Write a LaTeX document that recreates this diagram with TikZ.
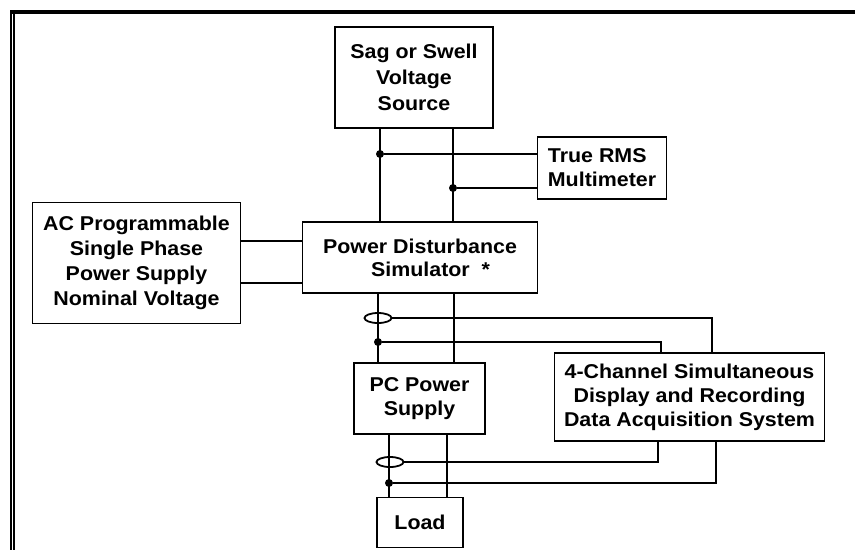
\documentclass[tikz,border=0pt]{standalone}
\usepackage{fontspec}
\setmainfont{Liberation Sans}[FakeStretch=1.07]
\usetikzlibrary{shapes.geometric}

\begin{document}
\begin{tikzpicture}[x=1pt,y=-1pt,
  box/.style={draw,line width=1.8pt,inner sep=0pt,align=center,
    font=\bfseries\fontsize{20}{24}\selectfont},
  wire/.style={line width=1.8pt},
  dot/.style={circle,fill,inner sep=0pt,minimum size=8pt},
  tap/.style={ellipse,draw,line width=1.8pt,inner sep=0pt,minimum width=27pt,minimum height=10pt}]
  \useasboundingbox (0,0) rectangle (855,550);
  % frame
  \draw[line width=4pt] (10,12) -- (855,12);
  \draw[line width=2pt] (11,10) -- (11,550);
  \draw[line width=2pt] (14,14) -- (14,550);

  % blocks
  \node[box,minimum width=158pt,minimum height=101pt,font=\bfseries\fontsize{20}{26}\selectfont]
    (sag) at (414,77.5) {Sag or Swell\\Voltage\\Source};
  \node[box,minimum width=129pt,minimum height=62pt,align=left] (rms) at (602,168) {True RMS\\Multimeter};
  \node[box,minimum width=208pt,minimum height=121pt,font=\bfseries\fontsize{20}{25}\selectfont]
    (ac) at (136.5,263) {AC Programmable\\Single Phase\\Power Supply\\Nominal Voltage};
  \node[box,minimum width=235pt,minimum height=71pt,align=left,font=\bfseries\fontsize{20}{23}\selectfont]
    (pds) at (420,257.5) {Power Disturbance\\\hspace*{48pt}Simulator\ \ *};
  \node[box,minimum width=131pt,minimum height=71pt] (pc) at (419.5,398.5) {PC Power\\Supply};
  \node[box,minimum width=270pt,minimum height=88pt] (daq) at (689.5,397)
    {4-Channel Simultaneous\\Display and Recording\\Data Acquisition System};
  \node[box,minimum width=86pt,minimum height=50pt] (load) at (420,522.5) {Load};

  % junctions and current probes
  \node[dot] (j1) at (380,154) {};
  \node[dot] (j2) at (453,188) {};
  \node[tap] (t1) at (378,318) {};
  \node[dot] (j3) at (378,342) {};
  \node[tap] (t2) at (390,462) {};
  \node[dot] (j4) at (389,483) {};

  % wiring
  \draw[wire] (sag.south -| j1) -- (pds.north -| j1);
  \draw[wire] (sag.south -| j2) -- (pds.north -| j2);
  \draw[wire] (j1) -- (rms.west |- j1);
  \draw[wire] (j2) -- (rms.west |- j2);
  \draw[wire] (ac.east |- 0,241) -- (pds.west |- 0,241);
  \draw[wire] (ac.east |- 0,283) -- (pds.west |- 0,283);
  \draw[wire] (pds.south -| j3) -- (pc.north -| j3);
  \draw[wire] (pds.south -| 454,0) -- (pc.north -| 454,0);
  \draw[wire] (t1.east) -| (daq.north -| 712,0);
  \draw[wire] (j3) -| (daq.north -| 661,0);
  \draw[wire] (pc.south -| j4) -- (load.north -| j4);
  \draw[wire] (pc.south -| 447,0) -- (load.north -| 447,0);
  \draw[wire] (t2.east) -| (daq.south -| 658,0);
  \draw[wire] (j4) -| (daq.south -| 716,0);
\end{tikzpicture}
\end{document}
